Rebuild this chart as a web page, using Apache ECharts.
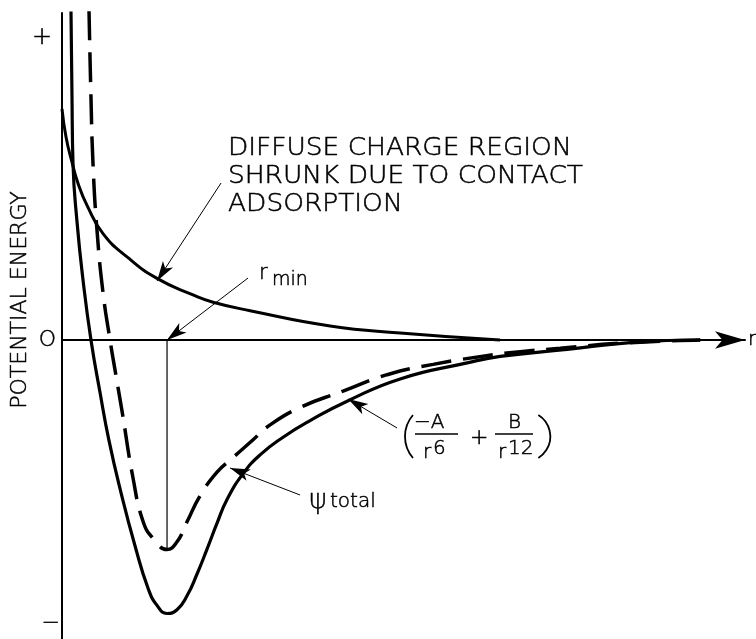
<!DOCTYPE html>
<html>
<head>
<meta charset="utf-8">
<script src="https://cdn.jsdelivr.net/npm/echarts@6.0.0/dist/echarts.min.js"></script>
<style>
  html, body { margin: 0; padding: 0; background: #fff; }
  #chart { width: 756px; height: 639px; }
</style>
</head>
<body>
<div id="chart"></div>
<script>
// r (horizontal) and potential energy (vertical)
const diffuseCurve = [
  [0, 2.31], [0.059, 2.03], [0.147, 1.779], [0.235, 1.568], [0.368, 1.347],
  [0.603, 1.064], [0.956, 0.831], [1.397, 0.616], [1.926, 0.451],
  [2.221, 0.378], [2.765, 0.293], [3.941, 0.141], [4.971, 0.071], [6.441, 0]
];
const ljCurve = [
  [0.397, 3.296], [0.426, 2.426], [0.456, 1.756], [0.515, 1.095], [0.603, 0.474],
  [0.706, 0], [0.794, -0.358], [0.882, -0.709], [1.044, -1.38], [1.191, -1.812],
  [1.338, -1.983], [1.544, -2.095], [1.691, -2.017], [1.838, -1.818],
  [2.029, -1.56], [2.279, -1.322], [2.515, -1.175], [2.809, -0.998],
  [3.015, -0.87], [3.5, -0.675], [4.132, -0.511], [4.779, -0.347],
  [5.456, -0.244], [6.191, -0.162], [6.735, -0.117], [7.324, -0.083],
  [8.206, -0.032], [9.382, 0]
];
const totalCurve = [
  [0.132, 3.3], [0.147, 2.43], [0.162, 1.76], [0.221, 1.18], [0.309, 0.6],
  [0.426, 0], [0.559, -0.525], [0.691, -1.007], [0.868, -1.528], [1.074, -2.06],
  [1.265, -2.482], [1.397, -2.654], [1.544, -2.735], [1.691, -2.697],
  [1.838, -2.558], [1.985, -2.34], [2.132, -2.091], [2.279, -1.832],
  [2.426, -1.594], [2.662, -1.336], [2.912, -1.149], [3.25, -0.972],
  [3.647, -0.806], [4.191, -0.612], [4.971, -0.389], [5.956, -0.229],
  [6.441, -0.164], [7.426, -0.094], [8.397, -0.024], [9.382, 0]
];
const rMin = 1.544;
const ljMinValue = -2.08;

const yTickValues = [3.02, 0, -2.83];
const yTickLabels = ['+', 'O', '\u2212'];

// leader lines of the annotations: [from, to]
const arrowLines = [
  [[2.338, 1.57], [1.397, 0.59]],
  [[2.735, 0.62], [rMin, 0]],
  [[4.926, -0.88], [4.206, -0.59]],
  [[3.5, -1.55], [2.47, -1.28]]
];

const FONT = '"DejaVu Sans", sans-serif';

function txt(x, y, s, size, extra) {
  return Object.assign({
    type: 'text',
    x: x,
    y: y,
    silent: true,
    style: {
      text: s,
      fontSize: size,
      fontFamily: FONT,
      fontWeight: 200,
      fill: '#000',
      stroke: '#000',
      lineWidth: 0.5,
      align: 'left',
      textAlign: 'left',
      verticalAlign: 'middle',
      textVerticalAlign: 'middle'
    }
  }, extra || {});
}

function bar(x1, x2, y) {
  return {
    type: 'line', silent: true,
    shape: { x1: x1, y1: y, x2: x2, y2: y },
    style: { stroke: '#000', lineWidth: 1.5 }
  };
}

const annotations = [
  txt(228, 149, 'DIFFUSE CHARGE REGION', 24, { scaleX: 1.1 }),
  txt(228, 177, 'SHRUNK DUE TO CONTACT', 24, { scaleX: 1.1 }),
  txt(228, 205, 'ADSORPTION', 24, { scaleX: 1.1 }),
  txt(259, 274, 'r', 21),
  txt(272, 280, 'min', 19),
  txt(309, 501, '\u03c8', 27),
  txt(330, 502, 'total', 20),
  // formula (-A/r6 + B/r12)
  {
    type: 'arc', silent: true,
    shape: { cx: 438, cy: 436.5, r: 33, startAngle: Math.PI - 0.71, endAngle: Math.PI + 0.71, clockwise: true },
    style: { stroke: '#000', fill: 'none', lineWidth: 1.8 }
  },
  txt(414, 423, '\u2212A', 20),
  bar(415, 458, 434),
  txt(423, 453, 'r', 20),
  txt(433, 449, '6', 20),
  txt(470, 438, '+', 22),
  txt(508, 423, 'B', 20),
  bar(495, 533, 434),
  txt(498, 453, 'r', 20),
  txt(508, 449, '12', 20),
  {
    type: 'arc', silent: true,
    shape: { cx: 525, cy: 436.5, r: 25.3, startAngle: -1.015, endAngle: 1.015, clockwise: true },
    style: { stroke: '#000', fill: 'none', lineWidth: 1.8 }
  }
];

const labelStyle = function (size, padRight) {
  return {
    fontFamily: FONT, fontSize: size, fontWeight: 200, color: '#000',
    textBorderColor: '#000', textBorderWidth: 0.5,
    padding: [0, padRight, 0, 0]
  };
};

const chart = echarts.init(document.getElementById('chart'));

const option = {
  animation: false,
  backgroundColor: '#fff',
  grid: { left: 62, right: 11, top: 13, bottom: 0, outerBoundsMode: 'none', containLabel: false },
  xAxis: {
    type: 'value',
    min: 0,
    max: 10.04,
    name: 'r',
    nameLocation: 'end',
    nameGap: 3,
    nameTextStyle: {
      fontFamily: FONT, fontSize: 20, fontWeight: 200, color: '#000',
      textBorderColor: '#000', textBorderWidth: 0.5
    },
    axisLine: {
      show: true,
      onZero: true,
      symbol: ['none', 'arrow'],
      symbolSize: [13, 30],
      lineStyle: { color: '#000', width: 2 }
    },
    axisTick: { show: false },
    axisLabel: { show: false },
    splitLine: { show: false }
  },
  yAxis: {
    type: 'value',
    min: -2.99,
    max: 3.27,
    name: 'POTENTIAL ENERGY',
    nameLocation: 'middle',
    nameRotate: 90,
    nameGap: 31,
    nameMoveOverlap: false,
    nameTextStyle: {
      fontFamily: FONT, fontSize: 22, fontWeight: 200, color: '#000',
      textBorderColor: '#000', textBorderWidth: 0.5,
      padding: [0, 0, 0, 52]
    },
    axisLine: { show: true, onZero: false, lineStyle: { color: '#000', width: 2 } },
    axisTick: { show: false },
    splitLine: { show: false },
    axisLabel: {
      show: true,
      customValues: yTickValues,
      margin: 2,
      formatter: function (v) {
        const i = yTickValues.indexOf(v);
        return '{' + ['p', 'o', 'm'][i] + '|' + yTickLabels[i] + '}';
      },
      rich: {
        p: labelStyle(24, 8),
        o: labelStyle(22, 4),
        m: labelStyle(22, 0)
      }
    }
  },
  series: [
    {
      name: 'diffuse',
      type: 'line',
      data: diffuseCurve,
      smooth: 0.5,
      symbol: 'none',
      lineStyle: { color: '#000', width: 3 }
    },
    {
      name: 'lj',
      type: 'line',
      data: ljCurve,
      smooth: 0.5,
      symbol: 'none',
      lineStyle: { color: '#000', width: 3.5, type: [30, 12] }
    },
    {
      name: 'total',
      type: 'line',
      data: totalCurve,
      smooth: 0.5,
      symbol: 'none',
      lineStyle: { color: '#000', width: 3.2 }
    },
    {
      name: 'rmin',
      type: 'line',
      data: [[rMin, 0], [rMin, ljMinValue]],
      symbol: 'none',
      lineStyle: { color: '#000', width: 1.2 },
      markLine: {
        silent: true,
        symbol: ['none', 'arrow'],
        symbolSize: [9, 20],
        label: { show: false },
        lineStyle: { color: '#000', width: 1, type: 'solid' },
        data: arrowLines.map(function (a) {
          return [{ coord: a[0] }, { coord: a[1] }];
        })
      }
    }
  ],
  graphic: annotations
};

chart.setOption(option);
</script>
</body>
</html>
